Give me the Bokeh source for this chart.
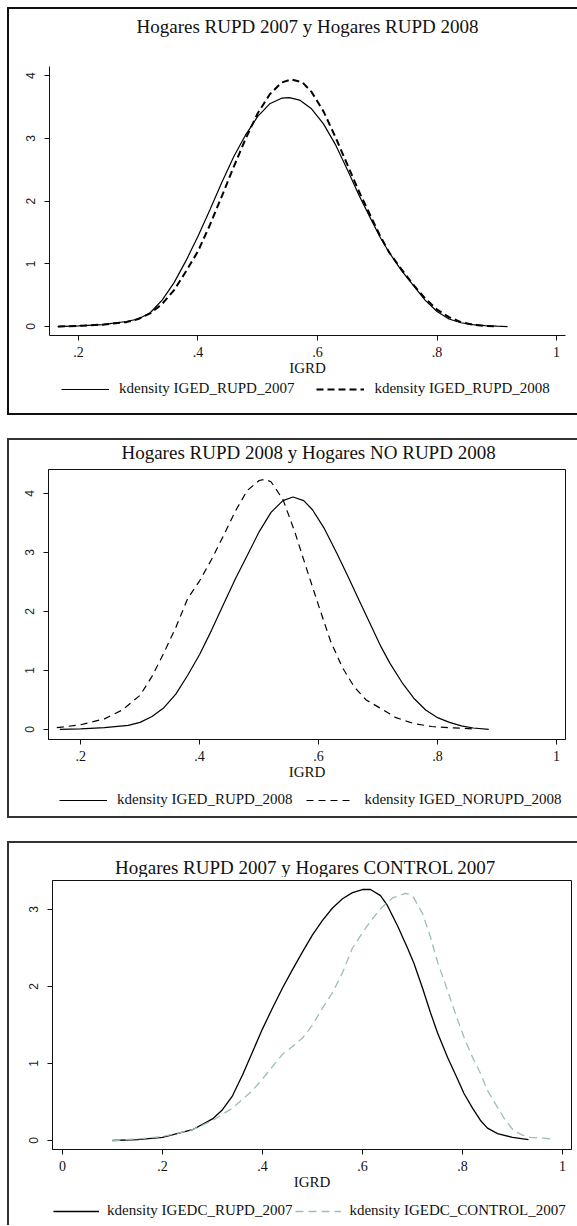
from bokeh.plotting import figure
from bokeh.models import Range1d, FixedTicker, Legend, LegendItem, Label
from bokeh.layouts import column
from bokeh.embed import file_html
from bokeh.resources import INLINE

# ---------------- data ----------------
titles = [
    "Hogares RUPD 2007 y Hogares RUPD 2008",
    "Hogares RUPD 2008 y Hogares NO RUPD 2008",
    "Hogares RUPD 2007 y Hogares CONTROL 2007",
]
x_label = "IGRD"

# panel 1
x_p1_rupd_2007 = [0.165, 0.20, 0.24, 0.28, 0.30, 0.32, 0.34, 0.36, 0.38, 0.40, 0.42, 0.44, 0.46, 0.48,
                  0.50, 0.52, 0.54, 0.553, 0.57, 0.59, 0.61, 0.63, 0.65, 0.67, 0.69, 0.705, 0.72, 0.74,
                  0.76, 0.78, 0.80, 0.82, 0.84, 0.86, 0.88, 0.90, 0.918]
y_p1_rupd_2007 = [0.00, 0.01, 0.03, 0.08, 0.12, 0.22, 0.42, 0.70, 1.05, 1.44, 1.86, 2.30, 2.71, 3.06,
                  3.35, 3.55, 3.64, 3.65, 3.61, 3.47, 3.23, 2.90, 2.50, 2.08, 1.70, 1.42, 1.18, 0.90,
                  0.66, 0.42, 0.24, 0.12, 0.06, 0.03, 0.015, 0.005, 0.00]
x_p1_rupd_2008 = [0.166, 0.20, 0.24, 0.28, 0.30, 0.32, 0.34, 0.36, 0.38, 0.40, 0.42, 0.44, 0.46, 0.48,
                  0.50, 0.52, 0.54, 0.556, 0.575, 0.59, 0.61, 0.63, 0.65, 0.67, 0.69, 0.705, 0.72, 0.74,
                  0.76, 0.78, 0.80, 0.82, 0.84, 0.86, 0.88, 0.90]
y_p1_rupd_2008 = [0.00, 0.01, 0.03, 0.07, 0.12, 0.21, 0.36, 0.58, 0.88, 1.20, 1.62, 2.08, 2.55, 3.00,
                  3.40, 3.70, 3.89, 3.94, 3.89, 3.74, 3.43, 3.02, 2.58, 2.14, 1.74, 1.44, 1.18, 0.92,
                  0.67, 0.45, 0.27, 0.15, 0.07, 0.03, 0.01, 0.00]

# panel 2
x_p2_rupd_2008 = [0.165, 0.20, 0.24, 0.28, 0.30, 0.32, 0.34, 0.36, 0.38, 0.40, 0.42, 0.44, 0.46, 0.48,
                  0.50, 0.52, 0.54, 0.557, 0.575, 0.59, 0.61, 0.63, 0.65, 0.67, 0.69, 0.705, 0.72, 0.74,
                  0.76, 0.78, 0.80, 0.82, 0.84, 0.86, 0.886]
y_p2_rupd_2008 = [0.00, 0.01, 0.03, 0.07, 0.12, 0.22, 0.37, 0.60, 0.92, 1.27, 1.68, 2.12, 2.55, 2.95,
                  3.35, 3.68, 3.88, 3.94, 3.88, 3.72, 3.40, 3.00, 2.58, 2.15, 1.72, 1.40, 1.12, 0.80,
                  0.53, 0.33, 0.20, 0.12, 0.06, 0.025, 0.00]
x_p2_norupd_2008 = [0.16, 0.20, 0.24, 0.27, 0.30, 0.32, 0.34, 0.36, 0.38, 0.40, 0.42, 0.44, 0.46, 0.48,
                    0.50, 0.51, 0.52, 0.54, 0.56, 0.578, 0.60, 0.62, 0.64, 0.66, 0.68, 0.704, 0.73,
                    0.76, 0.79, 0.82, 0.86]
y_p2_norupd_2008 = [0.03, 0.08, 0.18, 0.33, 0.58, 0.90, 1.30, 1.73, 2.22, 2.52, 2.88, 3.28, 3.70, 4.05,
                    4.22, 4.24, 4.20, 3.90, 3.35, 2.78, 2.10, 1.50, 1.05, 0.72, 0.50, 0.36, 0.20,
                    0.10, 0.05, 0.03, 0.01]

# panel 3
x_p3_rupd_2007 = [0.10, 0.15, 0.20, 0.26, 0.30, 0.32, 0.34, 0.36, 0.38, 0.40, 0.42, 0.44, 0.46, 0.48,
                  0.50, 0.52, 0.54, 0.56, 0.58, 0.60, 0.616, 0.636, 0.65, 0.67, 0.69, 0.703, 0.72,
                  0.736, 0.75, 0.77, 0.79, 0.803, 0.82, 0.836, 0.85, 0.87, 0.90, 0.932]
y_p3_rupd_2007 = [0.00, 0.01, 0.04, 0.14, 0.28, 0.40, 0.58, 0.85, 1.15, 1.45, 1.72, 1.98, 2.22, 2.45,
                  2.67, 2.86, 3.02, 3.14, 3.22, 3.26, 3.26, 3.18, 3.05, 2.79, 2.50, 2.30, 1.98,
                  1.66, 1.40, 1.08, 0.80, 0.61, 0.42, 0.26, 0.16, 0.09, 0.04, 0.01]
x_p3_control_2007 = [0.10, 0.15, 0.20, 0.26, 0.30, 0.34, 0.38, 0.40, 0.42, 0.44, 0.46, 0.48, 0.50, 0.52,
                     0.54, 0.56, 0.58, 0.60, 0.62, 0.636, 0.66, 0.686, 0.70, 0.72, 0.736, 0.75, 0.77,
                     0.79, 0.803, 0.82, 0.836, 0.85, 0.87, 0.885, 0.902, 0.92, 0.936, 0.96, 0.98]
y_p3_control_2007 = [0.00, 0.02, 0.05, 0.14, 0.26, 0.42, 0.65, 0.80, 0.96, 1.12, 1.22, 1.33, 1.50, 1.72,
                     1.92, 2.18, 2.50, 2.70, 2.88, 3.01, 3.15, 3.21, 3.18, 2.95, 2.64, 2.32, 1.95,
                     1.57, 1.34, 1.08, 0.87, 0.65, 0.43, 0.27, 0.13, 0.07, 0.04, 0.03, 0.02]

x_ticks_a = [0.2, 0.4, 0.6, 0.8, 1.0]
x_tick_labels_a = [".2", ".4", ".6", ".8", "1"]
x_ticks_b = [0.0, 0.2, 0.4, 0.6, 0.8, 1.0]
x_tick_labels_b = ["0", ".2", ".4", ".6", ".8", "1"]
y_ticks_a = [0, 1, 2, 3, 4]
y_ticks_b = [0, 1, 2, 3]

legend_labels = [
    ["kdensity IGED_RUPD_2007", "kdensity IGED_RUPD_2008"],
    ["kdensity IGED_RUPD_2008", "kdensity IGED_NORUPD_2008"],
    ["kdensity IGEDC_RUPD_2007", "kdensity IGEDC_CONTROL_2007"],
]

SERIF = "Liberation Serif"
SANS = "Liberation Sans"
W = 570


def bare_fig(h, xr, yr):
    f = figure(width=W, height=h, x_range=Range1d(*xr), y_range=Range1d(*yr),
               output_backend="svg", toolbar_location=None,
               x_axis_location=None, y_axis_location=None, min_border=0)
    f.grid.visible = False
    f.outline_line_color = None
    f.background_fill_color = None
    f.border_fill_color = None
    return f


def title_fig(text, h, xfrac, y_from_top):
    # the frame of this strip is aligned with the plot frame below it
    f = bare_fig(h, (0, 1), (0, h))
    f.add_layout(Label(x=xfrac, y=h - y_from_top, text=text, text_align="center",
                       text_baseline="middle", text_font=SERIF, text_font_size="19px",
                       text_color="#111111"))
    return f


def plot_fig(height, xr, yr, borders, xticks, xlabels, yticks, box):
    p = figure(width=W, height=height, x_range=Range1d(*xr), y_range=Range1d(*yr),
               output_backend="svg", toolbar_location=None,
               min_border_left=borders[0], min_border_right=borders[1],
               min_border_top=borders[2], min_border_bottom=borders[3])
    p.title.text = ""
    p.title.standoff = 0
    p.border_fill_color = None
    p.background_fill_color = "white"
    p.grid.visible = False
    p.outline_line_color = "#111111" if box else None
    p.outline_line_width = 1

    xa = p.xaxis[0]
    xa.ticker = FixedTicker(ticks=xticks)
    xa.major_label_overrides = {t: l for t, l in zip(xticks, xlabels)}
    xa.minor_tick_line_color = None
    xa.major_tick_in = 0
    xa.major_tick_out = 5
    xa.major_label_standoff = 6
    xa.major_label_text_font = SERIF
    xa.major_label_text_font_size = "14px"
    xa.major_label_text_color = "#111111"
    xa.axis_label = x_label
    xa.axis_label_text_font = SERIF
    xa.axis_label_text_font_size = "15px"
    xa.axis_label_text_font_style = "normal"
    xa.axis_label_text_color = "#111111"
    xa.axis_label_standoff = 0
    xa.axis_line_color = "#111111"
    xa.major_tick_line_color = "#111111"

    ya = p.yaxis[0]
    ya.ticker = FixedTicker(ticks=yticks)
    ya.minor_tick_line_color = None
    ya.major_tick_in = 0
    ya.major_tick_out = 5
    ya.major_label_standoff = 9
    ya.major_label_orientation = "vertical"
    ya.major_label_text_font = SANS
    ya.major_label_text_font_size = "12px"
    ya.major_label_text_color = "#222222"
    ya.axis_line_color = "#111111"
    ya.major_tick_line_color = "#111111"
    return p


def legend_fig(h, series, labels, loc, glyph_w, standoff, spacing):
    # same series as the plot; the view is placed away from the data so only the legend shows
    f = bare_fig(h, (0, 1), (10, 11))
    items = []
    for (xs, ys, style), lab in zip(series, labels):
        r = f.line(xs, ys, **style)
        items.append(LegendItem(label=lab, renderers=[r]))
    leg = Legend(items=items, orientation="horizontal", location=loc,
                 glyph_width=glyph_w, glyph_height=14, label_height=14, label_standoff=standoff,
                 spacing=spacing, padding=0, margin=0,
                 label_text_font=SERIF, label_text_font_size="15px",
                 label_text_color="#111111",
                 border_line_color=None, background_fill_alpha=0)
    f.add_layout(leg, "center")
    return f


solid = dict(line_color="black", line_width=1.2)

# ---------------- panel 1 ----------------
s1 = [(x_p1_rupd_2007, y_p1_rupd_2007, solid),
      (x_p1_rupd_2008, y_p1_rupd_2008, dict(line_color="black", line_width=2, line_dash="7 4"))]
t1 = title_fig(titles[0], 38, 0.50, 19)
p1 = plot_fig(335, (0.1515, 1.015), (-0.143, 4.145), (42, 12, 21, 45),
              x_ticks_a, x_tick_labels_a, y_ticks_a, False)
for xs, ys, st in s1:
    p1.line(xs, ys, **st)
l1 = legend_fig(35, s1, legend_labels[0], (12, 18), 48, 10, 22)
g1 = column(t1, p1, l1, spacing=0,
            styles={"box-shadow": "inset 2px 2px 0 0 #111, inset 0 -2px 0 0 #111"})

# ---------------- panel 2 ----------------
s2 = [(x_p2_rupd_2008, y_p2_rupd_2008, solid),
      (x_p2_norupd_2008, y_p2_norupd_2008, dict(line_color="black", line_width=1.2, line_dash="7 5"))]
t2 = title_fig(titles[1], 28, 0.503, 14)
p2 = plot_fig(319, (0.146, 1.015), (-0.17, 4.407), (41, 12, 3, 46),
              x_ticks_a, x_tick_labels_a, y_ticks_a, True)
for xs, ys, st in s2:
    p2.line(xs, ys, **st)
l2 = legend_fig(33, s2, legend_labels[1], (11, 10), 48, 10, 14)
g2 = column(t2, p2, l2, spacing=0,
            styles={"box-shadow": "inset 2px 2px 0 0 #333, inset 0 -2px 0 0 #333"})

# ---------------- panel 3 ----------------
s3 = [(x_p3_rupd_2007, y_p3_rupd_2007, dict(line_color="black", line_width=1.3)),
      (x_p3_control_2007, y_p3_control_2007, dict(line_color="#9dbdb8", line_width=1.3, line_dash="8 5"))]
t3 = title_fig(titles[2], 36, 0.4875, 26)
p3 = plot_fig(319, (-0.02, 1.018), (-0.117, 3.377), (45, 6, 3, 47),
              x_ticks_b, x_tick_labels_b, y_ticks_b, True)
for xs, ys, st in s3:
    p3.line(xs, ys, **st)
l3 = legend_fig(29, s3, legend_labels[2], (1, 6), 46, 8, 3)
g3 = column(t3, p3, l3, spacing=0, styles={"box-shadow": "inset 2px 2px 0 0 #333"})

layout = column(g1, g2, g3, spacing=23, margin=(7, 0, 0, 7))
open("out.html", "w").write(file_html(layout, INLINE))
